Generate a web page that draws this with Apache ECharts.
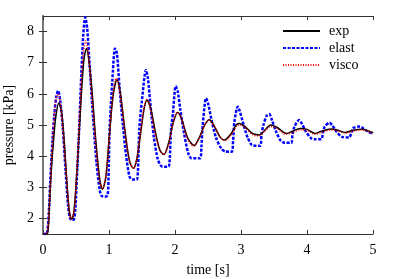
<!DOCTYPE html>
<html>
<head>
<meta charset="utf-8">
<script src="https://cdn.jsdelivr.net/npm/echarts@6/dist/echarts.min.js"></script>
<style>html,body{margin:0;padding:0;background:#fff}#c{width:399px;height:279px}</style>
</head>
<body>
<div id="c"></div>
<script>
var xTicks = [0, 1, 2, 3, 4, 5];
var yTicks = [2, 3, 4, 5, 6, 7, 8];
var seriesNames = ['exp', 'elast', 'visco'];

var expT = [0,0.06,0.08,0.106,0.13,0.156,0.19,0.24,0.28,0.32,0.36,0.4,0.435,0.47,0.52,0.57,0.62,0.66,0.7,0.75,0.8,0.86,0.9,0.95,1.0,1.06,1.12,1.17,1.24,1.31,1.37,1.42,1.48,1.53,1.575,1.63,1.71,1.77,1.83,1.9,1.97,2.04,2.1,2.19,2.29,2.37,2.45,2.52,2.6,2.68,2.75,2.85,2.92,2.97,3.06,3.18,3.28,3.36,3.45,3.55,3.69,3.78,3.9,4.0,4.12,4.22,4.36,4.46,4.58,4.7,4.83,4.93,5.0];
var expP = [1.5,1.5,1.7,2.8,3.7,4.4,5.2,5.71,5.45,4.5,3.2,2.2,1.97,2.25,3.7,5.6,7.1,7.46,7.0,5.9,4.5,3.25,2.94,3.3,4.5,5.9,6.45,6.05,4.85,3.85,3.61,3.9,4.75,5.5,5.8,5.55,4.7,4.2,4.05,4.4,5.05,5.4,5.2,4.6,4.34,4.6,5.0,5.17,4.95,4.62,4.52,4.72,4.98,5.05,4.95,4.72,4.68,4.83,5.0,4.92,4.73,4.8,4.89,4.86,4.73,4.8,4.87,4.84,4.76,4.83,4.86,4.81,4.75];

var elastT = [0,0.05,0.08,0.11,0.14,0.17,0.2,0.23,0.26,0.3,0.34,0.38,0.41,0.44,0.47,0.49,0.52,0.55,0.58,0.61,0.64,0.67,0.71,0.76,0.81,0.86,0.89,0.94,0.98,0.995,1.01,1.05,1.09,1.12,1.16,1.21,1.26,1.31,1.35,1.42,1.44,1.46,1.5,1.56,1.59,1.63,1.68,1.74,1.8,1.9,1.92,1.94,1.97,2.01,2.04,2.08,2.14,2.2,2.25,2.38,2.4,2.42,2.47,2.5,2.55,2.62,2.7,2.76,2.86,2.88,2.9,2.95,2.98,3.04,3.1,3.17,3.29,3.31,3.34,3.39,3.43,3.47,3.53,3.6,3.66,3.76,3.78,3.81,3.88,3.92,3.98,4.06,4.12,4.22,4.24,4.27,4.34,4.38,4.45,4.53,4.64,4.67,4.7,4.8,4.86,4.93,5.0];
var elastP = [1.5,1.5,1.9,3.2,4.4,5.3,5.9,6.1,5.8,4.9,3.6,2.4,2.0,1.95,1.97,2.3,3.6,5.0,6.6,7.9,8.46,8.1,6.8,5.2,3.8,2.9,2.72,2.7,2.75,3.5,4.9,6.4,7.46,7.3,6.2,5.0,4.0,3.35,3.25,3.25,3.6,4.9,5.8,6.77,6.5,5.6,4.6,3.9,3.67,3.66,3.9,4.84,5.4,6.25,6.1,5.5,4.7,4.1,3.93,3.93,4.3,5.0,5.86,5.7,5.2,4.6,4.25,4.15,4.14,4.5,5.1,5.59,5.45,5.0,4.6,4.35,4.33,4.7,5.0,5.3,5.35,5.15,4.8,4.5,4.43,4.43,4.7,4.95,5.16,5.05,4.8,4.58,4.54,4.55,4.75,4.95,5.07,5.0,4.78,4.62,4.6,4.75,4.9,4.95,4.88,4.78,4.72];

var viscoT = [0,0.05,0.08,0.11,0.14,0.17,0.2,0.23,0.26,0.3,0.35,0.39,0.43,0.47,0.52,0.57,0.61,0.645,0.68,0.73,0.79,0.85,0.9,0.95,1.0,1.06,1.11,1.16,1.24,1.31,1.37,1.42,1.48,1.53,1.57,1.62,1.7,1.77,1.83,1.9,1.97,2.03,2.09,2.18,2.28,2.36,2.45,2.51,2.6,2.68,2.76,2.85,2.93,2.98,3.06,3.18,3.27,3.36,3.45,3.55,3.68,3.78,3.9,4.0,4.12,4.22,4.35,4.45,4.58,4.7,4.82,4.92,5.0];
var viscoP = [1.5,1.5,1.8,3.0,4.3,5.3,5.85,6.0,5.75,4.9,3.5,2.4,1.97,2.2,3.8,5.9,7.3,7.7,7.4,6.2,4.6,3.3,2.95,3.3,4.5,6.0,6.5,6.1,4.8,3.85,3.6,3.9,4.8,5.55,5.82,5.6,4.7,4.2,4.05,4.35,5.05,5.4,5.25,4.6,4.32,4.55,5.0,5.15,4.95,4.62,4.5,4.68,4.95,5.0,4.92,4.68,4.65,4.8,4.95,4.88,4.7,4.75,4.85,4.82,4.7,4.76,4.84,4.82,4.74,4.8,4.84,4.8,4.73];

function zip(t, p) { return t.map(function (v, i) { return [v, p[i]]; }); }

var FONT = 'Liberation Serif';
var chart = echarts.init(document.getElementById('c'), null, {renderer: 'canvas'});
chart.setOption({
  animation: false,
  backgroundColor: '#fff',
  grid: {left: 43, right: 26, top: 16, bottom: 45, containLabel: false, outerBoundsMode: 'none'},
  legend: {
    orient: 'vertical', left: 277, top: 19,
    itemWidth: 37, itemHeight: 10, itemGap: 3,
    data: seriesNames,
    itemStyle: {opacity: 0},
    textStyle: {fontFamily: FONT, fontSize: 14, color: '#000', padding: [0, 0, 0, 4]}
  },
  xAxis: [{
    type: 'value', min: 0, max: 5, interval: 1, position: 'bottom',
    name: 'time [s]', nameLocation: 'middle', nameGap: 29,
    nameTextStyle: {fontFamily: FONT, fontSize: 14, color: '#000'},
    axisLine: {show: true, lineStyle: {color: '#333', width: 1}},
    axisTick: {show: true, inside: true, length: 4, lineStyle: {color: '#333'}},
    axisLabel: {fontFamily: FONT, fontSize: 14, color: '#000', margin: 9, customValues: xTicks},
    splitLine: {show: false}
  }, {
    type: 'value', min: 0, max: 5, interval: 1, position: 'top',
    axisLine: {show: true, lineStyle: {color: '#333', width: 1}},
    axisTick: {show: true, inside: true, length: 4, lineStyle: {color: '#333'}},
    axisLabel: {show: false},
    splitLine: {show: false}
  }],
  yAxis: [{
    type: 'value', min: 1.5, max: 8.5, position: 'left',
    name: 'pressure [kPa]', nameLocation: 'middle', nameGap: 23, nameRotate: 90,
    nameTextStyle: {fontFamily: FONT, fontSize: 14, color: '#000'},
    axisLine: {show: true, lineStyle: {color: '#777', width: 2}},
    axisTick: {show: true, inside: true, length: 4, customValues: yTicks, lineStyle: {color: '#333'}},
    axisLabel: {fontFamily: FONT, fontSize: 14, color: '#000', margin: 9, customValues: yTicks},
    splitLine: {show: false}
  }, {
    type: 'value', min: 1.5, max: 8.5, position: 'right',
    axisLine: {show: true, lineStyle: {color: '#777', width: 2}},
    axisTick: {show: true, inside: true, length: 4, customValues: yTicks, lineStyle: {color: '#333'}},
    axisLabel: {show: false},
    splitLine: {show: false}
  }],
  series: [{
    name: 'exp', type: 'line', data: zip(expT, expP), smooth: 0.3, symbol: 'none', z: 3,
    lineStyle: {color: '#000', width: 1.5, type: 'solid'}, itemStyle: {color: '#000'}
  }, {
    name: 'elast', type: 'line', data: zip(elastT, elastP), smooth: 0.25, symbol: 'none', z: 2,
    lineStyle: {color: '#0000ff', width: 2.5, type: [3, 1.5]}, itemStyle: {color: '#0000ff'}
  }, {
    name: 'visco', type: 'line', data: zip(viscoT, viscoP), smooth: 0.3, symbol: 'none', z: 4,
    lineStyle: {color: '#ff0000', width: 1.5, type: [1, 1.5]}, itemStyle: {color: '#ff0000'}
  }]
});
</script>
</body>
</html>
